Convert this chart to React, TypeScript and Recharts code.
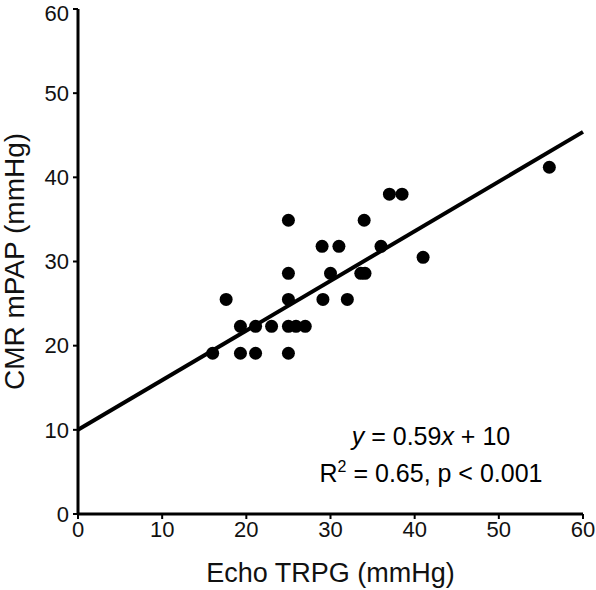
import React from "react";
import {
  ScatterChart,
  Scatter,
  XAxis,
  YAxis,
  ReferenceLine,
  Customized,
} from "recharts";

const echoTRPG = [
  16.0, 17.6, 19.3, 19.3, 21.1, 21.1, 23.0, 25.0, 25.0, 25.0, 25.0, 25.0, 25.9,
  27.0, 29.0, 29.1, 30.0, 31.0, 32.0, 34.0, 33.6, 34.1, 36.0, 37.0, 38.5, 41.0,
  56.0,
];
const cmrMPAP = [
  19.1, 25.5, 22.3, 19.1, 22.3, 19.1, 22.3, 34.9, 28.6, 25.5, 22.3, 19.1, 22.3,
  22.3, 31.8, 25.5, 28.6, 31.8, 25.5, 34.9, 28.6, 28.6, 31.8, 38.0, 38.0, 30.5,
  41.2,
];
const axisTicks = [0, 10, 20, 30, 40, 50, 60];
const slope = 0.59;
const intercept = 10;
const lineRange = [0, 60];

const points = echoTRPG.map((x, i) => ({ x, y: cmrMPAP[i] }));
const font = "'Liberation Sans', Arial, Helvetica, sans-serif";

const Dot = (props: any) => {
  const { cx, cy } = props;
  if (cx == null || cy == null) return null;
  return <circle cx={cx} cy={cy} r={6.5} fill="#000" />;
};

const Equation = () => (
  <g fontFamily={font} fontSize={25} fill="#000">
    <text x={431} y={445} textAnchor="middle">
      <tspan fontStyle="italic">y</tspan>
      <tspan> = 0.59</tspan>
      <tspan fontStyle="italic">x</tspan>
      <tspan> + 10</tspan>
    </text>
    <text x={431} y={482} textAnchor="middle">
      <tspan>R</tspan>
      <tspan dy={-10} fontSize={16}>2</tspan>
      <tspan dy={10}> = 0.65, p &lt; 0.001</tspan>
    </text>
  </g>
);

export default function App() {
  return (
    <div style={{ position: "absolute", left: 0, top: 0, background: "#fff" }}>
      <ScatterChart
        width={596}
        height={590}
        margin={{ top: 9, right: 13, left: 0, bottom: 0 }}
      >
        <XAxis
          type="number"
          dataKey="x"
          domain={[0, 60]}
          ticks={axisTicks}
          height={76}
          axisLine={{ stroke: "#000", strokeWidth: 3 }}
          tickLine={{ stroke: "#000", strokeWidth: 2 }}
          tickSize={5}
          tickMargin={2}
          tick={{ fill: "#111", fontSize: 22, fontFamily: font }}
          label={{
            value: "Echo TRPG (mmHg)",
            position: "insideBottom",
            offset: 8,
            style: { fill: "#111", fontSize: 27, fontFamily: font },
          }}
        />
        <YAxis
          type="number"
          dataKey="y"
          domain={[0, 60]}
          ticks={axisTicks}
          width={78}
          axisLine={{ stroke: "#000", strokeWidth: 3 }}
          tickLine={{ stroke: "#000", strokeWidth: 2 }}
          tickSize={5}
          tickMargin={4}
          tick={{ fill: "#111", fontSize: 22, fontFamily: font }}
          label={{
            value: "CMR mPAP (mmHg)",
            angle: -90,
            position: "insideLeft",
            offset: 14,
            style: {
              fill: "#111",
              fontSize: 28,
              fontFamily: font,
              textAnchor: "middle",
            },
          }}
        />
        <ReferenceLine
          segment={[
            { x: lineRange[0], y: slope * lineRange[0] + intercept },
            { x: lineRange[1], y: slope * lineRange[1] + intercept },
          ]}
          stroke="#000"
          strokeWidth={4}
          ifOverflow="visible"
        />
        <Scatter
          data={points}
          shape={<Dot />}
          isAnimationActive={false}
        />
        <Customized component={Equation} />
      </ScatterChart>
    </div>
  );
}
